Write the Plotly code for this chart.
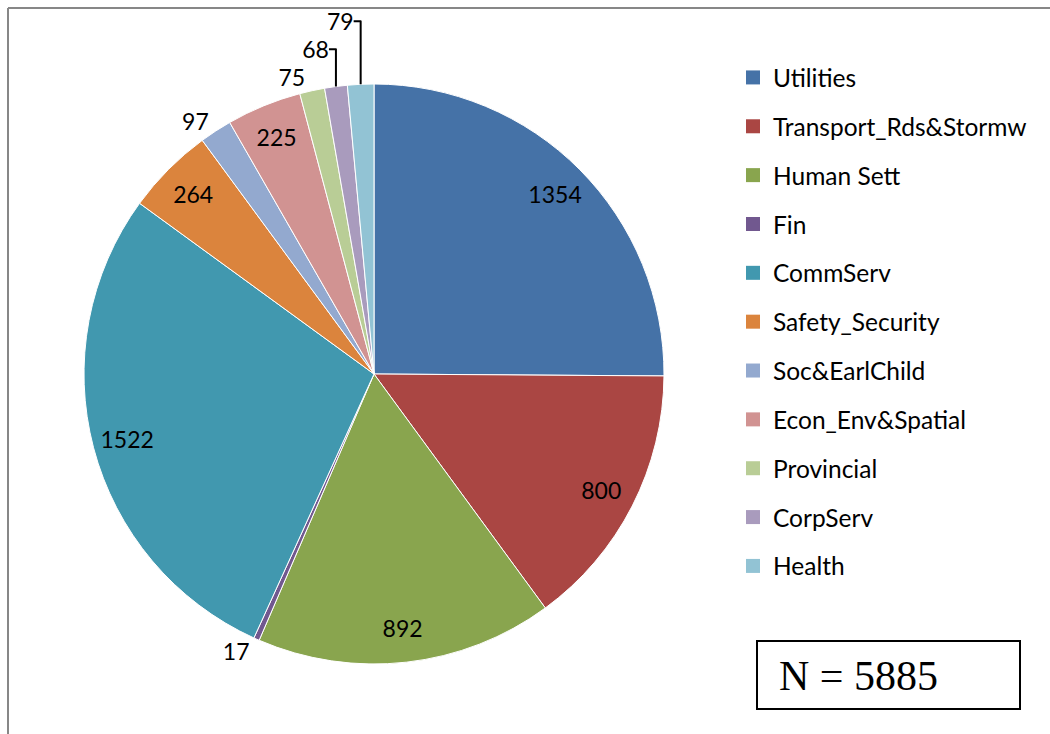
import plotly.graph_objects as go

categories = ["Utilities", "Transport_Rds&Stormw", "Human Sett", "Fin", "CommServ",
              "Safety_Security", "Soc&EarlChild", "Econ_Env&Spatial", "Provincial",
              "CorpServ", "Health"]
values = [1354, 800, 892, 17, 1522, 264, 97, 225, 75, 68, 79]
colors = ["#4572A7", "#AA4643", "#89A54E", "#71588F", "#4198AF", "#DB843D",
          "#93A9CF", "#D19392", "#B9CD96", "#A99BBD", "#92C3D4"]
n_label = "N = 5885"

W, H = 1050, 734
cx, cy, r = 374, 374, 290
domain = dict(x=[(cx - r) / W, (cx + r) / W], y=[(H - cy - r) / H, (H - cy + r) / H])

textpos = ["inside" if v > 150 else "outside" for v in values]

fig = go.Figure()
# coloured pie (no text)
fig.add_trace(go.Pie(
    labels=categories, values=values, sort=False, direction="clockwise", rotation=0,
    marker=dict(colors=colors, line=dict(color="white", width=1)),
    textinfo="none", showlegend=False, hoverinfo="label+value", domain=domain,
))
# transparent ring carrying the value labels near the rim
fig.add_trace(go.Pie(
    labels=categories, values=values, sort=False, direction="clockwise", rotation=0,
    hole=0.76,
    marker=dict(colors=["rgba(0,0,0,0)"] * len(values), line=dict(width=0)),
    texttemplate="%{value}", textposition=textpos,
    insidetextorientation="horizontal",
    textfont=dict(family="Lato", size=23, color="black"),
    showlegend=False, hoverinfo="skip", domain=domain,
))

# legend entries
for c, col in zip(categories, colors):
    fig.add_trace(go.Scatter(
        x=[None], y=[None], mode="markers", name=c, legendgroup=c,
        marker=dict(symbol="square", size=14, color=col), showlegend=True,
    ))

fig.update_layout(
    width=W, height=H,
    margin=dict(l=0, r=0, t=0, b=0),
    paper_bgcolor="white", plot_bgcolor="white",
    xaxis=dict(visible=False), yaxis=dict(visible=False),
    legend=dict(x=733 / W, y=1 - 55 / H, xanchor="left", yanchor="top",
                font=dict(family="Lato", size=24.5, color="black"),
                tracegroupgap=14, traceorder="grouped", itemsizing="trace",
                bgcolor="rgba(0,0,0,0)"),
    shapes=[
        dict(type="line", xref="paper", yref="paper", x0=8 / W, x1=1, y0=1 - 8 / H, y1=1 - 8 / H,
             line=dict(color="#878787", width=2)),
        dict(type="line", xref="paper", yref="paper", x0=8 / W, x1=8 / W, y0=0, y1=1 - 8 / H,
             line=dict(color="#878787", width=2)),
        dict(type="rect", xref="paper", yref="paper", x0=757 / W, x1=1020 / W,
             y0=1 - 709 / H, y1=1 - 641 / H, line=dict(color="black", width=2),
             fillcolor="white"),
    ],
    annotations=[
        dict(text=n_label, xref="paper", yref="paper", x=777 / W, y=1 - 676 / H,
             xanchor="left", yanchor="middle", showarrow=False,
             font=dict(family="Liberation Serif", size=42, color="black")),
    ],
)

fig.write_html("out.html", config={"displayModeBar": False},
               post_script="document.body.style.margin='0';")
